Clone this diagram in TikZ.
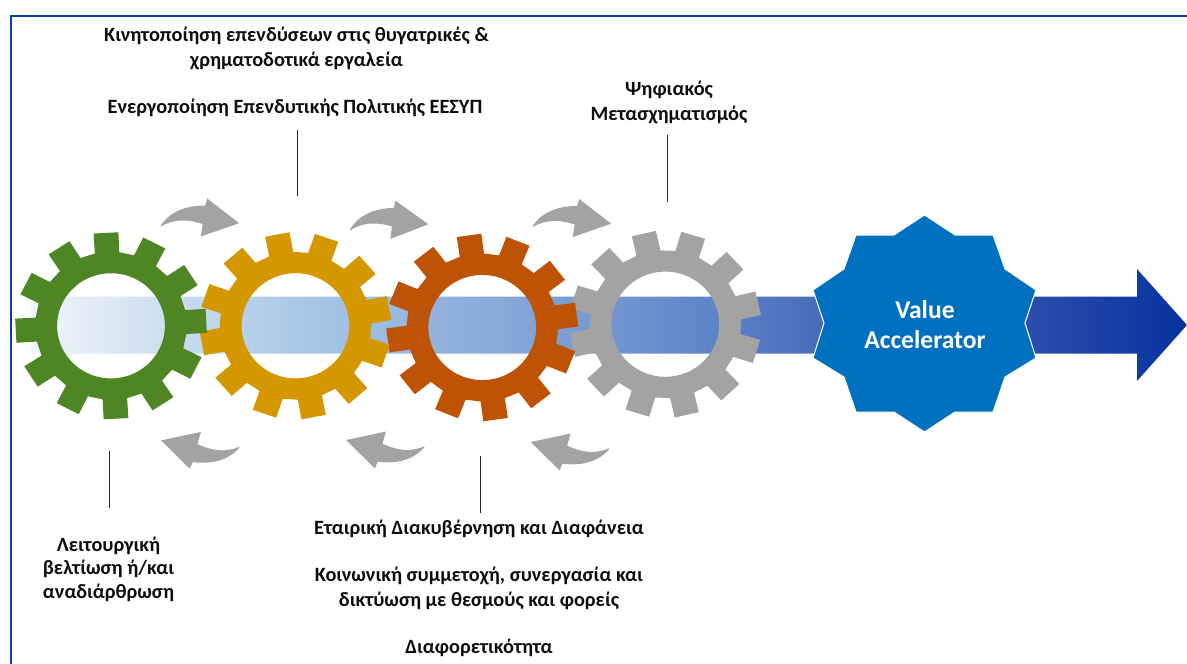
\documentclass[tikz,border=0pt]{standalone}
\usepackage{fontspec}
\setmainfont{Carlito}
\usepackage{tikz}
\definecolor{framecol}{HTML}{0B3BA6}
\definecolor{greengear}{HTML}{4E8623}
\definecolor{yellowgear}{HTML}{D49700}
\definecolor{rustgear}{HTML}{BE5306}
\definecolor{graygear}{HTML}{A3A3A3}
\definecolor{starcol}{HTML}{0070C0}
\definecolor{banda}{HTML}{F1F6FB}
\definecolor{bandb}{HTML}{A9C7E6}
\definecolor{bandc}{HTML}{88A9D9}
\definecolor{bandd}{HTML}{5C83C8}
\definecolor{bande}{HTML}{4A6DBB}
\definecolor{bandf}{HTML}{2A4CAB}
\definecolor{bandg}{HTML}{0532A0}
\pgfdeclarehorizontalshading{bandshade}{100bp}{color(0bp)=(banda); color(25bp)=(banda);
  color(36.6bp)=(bandb); color(45.3bp)=(bandc); color(54.8bp)=(bandd); color(58.9bp)=(bande);
  color(68.4bp)=(bandf); color(75bp)=(bandg); color(100bp)=(bandg)}
\tikzstyle{txt} = [align=center, font=\fontsize{20.3pt}{25pt}\selectfont\bfseries, text=black!95]
\tikzstyle{leader} = [draw=black!85, line width=1pt]
\tikzstyle{flow} = [fill=graygear]
\newcommand{\gearwheel}[3]{
  \fill[#2, even odd rule, shift={(#1)}, xscale=1.025, rotate=#3] (-9.3:74pt)
    \foreach \t in {0,30,...,330} {-- (\t-9.3:74pt) -- (\t-7.4:93.8pt) -- (\t+7.4:93.8pt) -- (\t+9.3:74pt)} -- cycle
    (0,0) circle (52.6pt);
}
\newcommand{\flowarrow}[2]{
  \fill[flow, shift={(#1)}, rotate=#2] (0,0) .. controls (10,-15) and (27,-20) .. (44.5,-20)
    -- (46.5,-27) -- (78.5,-2.3) -- (40,11) -- (42,-1.5) .. controls (25,-7) and (12,-6) .. (0,1) -- cycle;
}
\begin{document}
\begin{tikzpicture}[x=1pt,y=-1pt]
  \useasboundingbox (0,0) rectangle (1187,664);
  \draw[framecol, line width=2pt] (1187,16) -- (11,16) -- (11,664);

  \shade[shading=bandshade]
    (31,296.5) -- (1137,296.5) -- (1137,269) -- (1187,325) -- (1137,381) -- (1137,353.5) -- (31,353.5) -- cycle;
  \filldraw[fill=starcol, draw=white, line width=1pt]
    (924.5,215) -- (955,235) -- (993,235) -- (1005,269) -- (1036,290) -- (1025,323) -- (1036,358) -- (1005,377)
    -- (993,412) -- (955,412) -- (924.5,432) -- (894,412) -- (856,412) -- (844,377) -- (813,358) -- (824,323)
    -- (813,290) -- (844,269) -- (856,235) -- (894,235) -- cycle;
  \node (accel) [txt, text=white, font=\fontsize{25.6pt}{30pt}\selectfont\bfseries] at (925,324.5) {Value\\Accelerator};

  \gearwheel{665.3,324.2}{graygear}{13}
  \gearwheel{482.3,327.5}{rustgear}{8}
  \gearwheel{295.5,325.8}{yellowgear}{11}
  \gearwheel{111,325.8}{greengear}{3}

  \flowarrow{160.7,225.5}{0}
  \flowarrow{350,229.3}{2}
  \flowarrow{532.7,226}{0}
  \flowarrow{239.3,447.7}{173}
  \flowarrow{424.3,447.3}{173}
  \flowarrow{609,449.3}{173}

  \node (invest) [txt] at (296.5,48) {Κινητοποίηση επενδύσεων στις θυγατρικές \&\\χρηματοδοτικά εργαλεία};
  \node (policy) [txt] at (295,108) {Ενεργοποίηση Επενδυτικής Πολιτικής ΕΕΣΥΠ};
  \node (digital) [txt] at (669,102) {Ψηφιακός\\Μετασχηματισμός};
  \node (improve) [txt, font=\fontsize{20.3pt}{23.5pt}\selectfont\bfseries] at (108.5,569) {Λειτουργική\\βελτίωση ή/και\\αναδιάρθρωση};
  \node (govern) [txt] at (479,528.5) {Εταιρική Διακυβέρνηση και Διαφάνεια};
  \node (social) [txt] at (479,588) {Κοινωνική συμμετοχή, συνεργασία και\\δικτύωση με θεσμούς και φορείς};
  \node (diverse) [txt] at (479,647.5) {Διαφορετικότητα};

  \coordinate (polt) at (297.5,130);
  \coordinate (polb) at (297.5,196);
  \coordinate (digt) at (667.3,135);
  \coordinate (digb) at (667.3,202);
  \coordinate (impt) at (109.5,451);
  \coordinate (impb) at (109.5,508);
  \coordinate (govt) at (480,456);
  \coordinate (govb) at (480,513);
  \draw[leader] (polt) -- (polb);
  \draw[leader] (digt) -- (digb);
  \draw[leader] (impt) -- (impb);
  \draw[leader] (govt) -- (govb);
\end{tikzpicture}
\end{document}
